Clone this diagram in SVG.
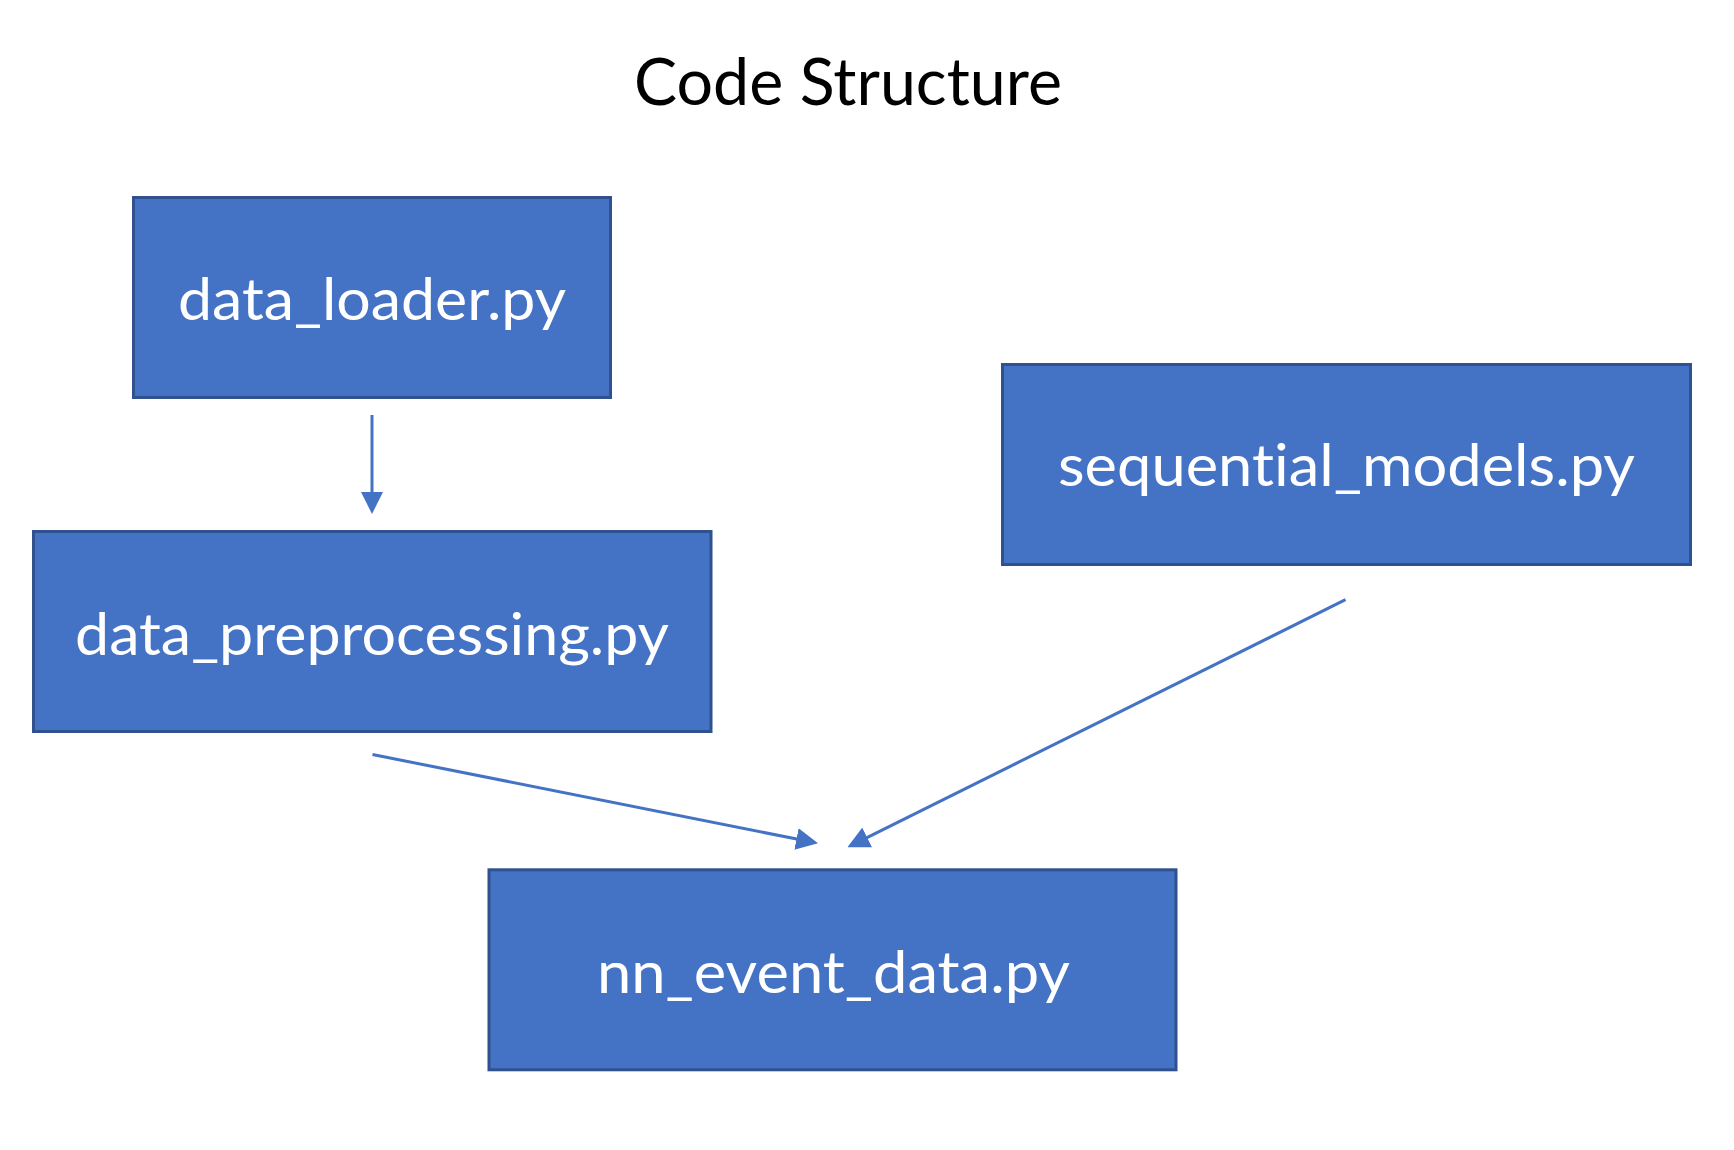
<svg xmlns="http://www.w3.org/2000/svg" width="1734" height="1150" viewBox="0 0 1734 1150">
<style>
.box{fill:#4472C4;stroke:#2F528F;stroke-width:3}
.lbl{font-family:Lato,"Noto Sans",sans-serif;font-size:59px;fill:#FFFFFF;font-variant-ligatures:none}
.title{font-family:Lato,"Noto Sans",sans-serif;font-size:65px;fill:#000000;font-variant-ligatures:none}
.conn{stroke:#4472C4;stroke-width:3;fill:none;marker-end:url(#arr)}
</style>
<defs>
<marker id="arr" markerUnits="userSpaceOnUse" markerWidth="22" markerHeight="22" refX="12" refY="11" orient="auto">
<path d="M0,0 L22,11 L0,22 Z" fill="#4472C4"/>
</marker>
</defs>
<rect width="1734" height="1150" fill="#FFFFFF"/>
<text class="title" x="634" y="105" textLength="428" lengthAdjust="spacingAndGlyphs">Code Structure</text>
<g id="connectors">
<line class="conn" x1="372" y1="415" x2="372" y2="504"/>
<line class="conn" x1="372.5" y1="754.5" x2="808.2" y2="841.3"/>
<line class="conn" x1="1345.5" y1="599.7" x2="856.4" y2="842.8"/>
</g>
<g id="data_loader">
<rect class="box" x="133.5" y="197.5" width="477" height="200"/>
<text class="lbl" x="178" y="320" textLength="388" lengthAdjust="spacingAndGlyphs">data_loader.py</text>
</g>
<g id="data_preprocessing">
<rect class="box" x="33.5" y="531.5" width="677.5" height="200"/>
<text class="lbl" x="75" y="654.5" textLength="594" lengthAdjust="spacingAndGlyphs">data_preprocessing.py</text>
</g>
<g id="sequential_models">
<rect class="box" x="1002.5" y="364.5" width="688" height="200"/>
<text class="lbl" x="1058" y="486" textLength="577" lengthAdjust="spacingAndGlyphs">sequential_models.py</text>
</g>
<g id="nn_event_data">
<rect class="box" x="489" y="869.8" width="687" height="200"/>
<text class="lbl" x="597" y="993" textLength="473" lengthAdjust="spacingAndGlyphs">nn_event_data.py</text>
</g>
</svg>
